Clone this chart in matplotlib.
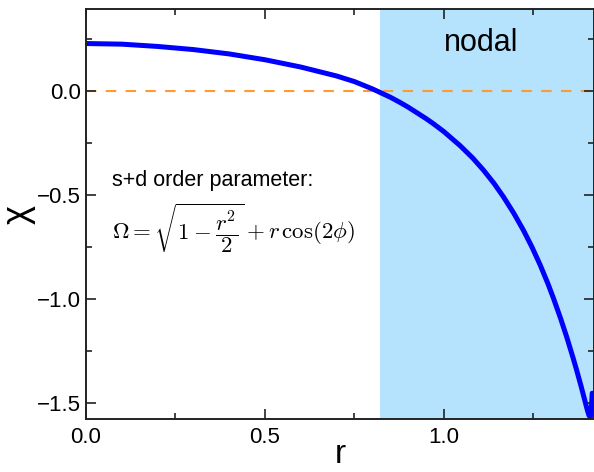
import numpy as np
import matplotlib
matplotlib.use("Agg")
import matplotlib.pyplot as plt
from matplotlib.ticker import MultipleLocator

plt.rcParams['font.family'] = ['Liberation Sans', 'DejaVu Sans']
plt.rcParams['mathtext.fontset'] = 'cm'

# values
r = [0.0, 0.1, 0.2, 0.3, 0.4, 0.5, 0.6, 0.7, 0.75, 0.8, 0.85, 0.877, 0.9,
     0.95, 0.97, 1.0, 1.045, 1.08, 1.11, 1.14, 1.166, 1.195, 1.222, 1.245,
     1.268, 1.29, 1.305, 1.325, 1.343, 1.36, 1.371, 1.383, 1.394, 1.40,
     1.405, 1.409, 1.412, 1.414]
chi = [0.228, 0.225, 0.214, 0.199, 0.178, 0.150, 0.115, 0.072, 0.045, 0.010,
       -0.030, -0.055, -0.078, -0.133, -0.157, -0.196, -0.263, -0.322, -0.380,
       -0.445, -0.509, -0.588, -0.670, -0.748, -0.834, -0.925, -0.993, -1.090,
       -1.184, -1.280, -1.345, -1.420, -1.492, -1.532, -1.560, -1.568, -1.52,
       -1.453]
nodal_start = 0.82
x_ticks = [0.0, 0.5, 1.0]
y_ticks = [0.0, -0.5, -1.0, -1.5]

fig = plt.figure(figsize=(5.94, 4.72), dpi=100)
ax = fig.add_axes([86/594, 1 - 419/472, 1 - 86/594, (419 - 9)/472])

ax.axvspan(nodal_start, 1.5, color='#b5e2fc', lw=0, zorder=0)
ax.axhline(0.0, color='#ff9a2e', lw=1.5, dashes=(5, 4.5), zorder=1)
ax.plot(r, chi, color='#0000ff', lw=3.6, solid_capstyle='round',
        solid_joinstyle='round', zorder=2)

ax.set_xlim(0, 1.419)
ax.set_ylim(-1.577, 0.394)
ax.set_xticks(x_ticks)
ax.set_yticks(y_ticks)
ax.xaxis.set_minor_locator(MultipleLocator(0.25))
ax.yaxis.set_minor_locator(MultipleLocator(0.25))
ax.tick_params(which='both', direction='in', top=True, right=True,
               width=1.2, color='#222222', labelsize=16)
ax.tick_params(which='major', length=7)
ax.tick_params(which='minor', length=4)
ax.tick_params(axis='x', pad=6)
for s in ax.spines.values():
    s.set_linewidth(1.4)
    s.set_color('#222222')

ax.set_xlabel('r', fontsize=24, labelpad=-7)
ax.set_ylabel('χ', fontsize=26, labelpad=1)

ax.text(1.105, 0.23, 'nodal', fontsize=22, ha='center', va='center')
ax.text(0.073, -0.43, 's+d order parameter:', fontsize=15.5, ha='left', va='center')
ax.text(0.073, -0.665, r'$\Omega = \sqrt{1 - \dfrac{r^2}{2}} + r\,\cos(2\phi)$',
        fontsize=16.5, ha='left', va='center')

fig.savefig('out.png', dpi=100)
